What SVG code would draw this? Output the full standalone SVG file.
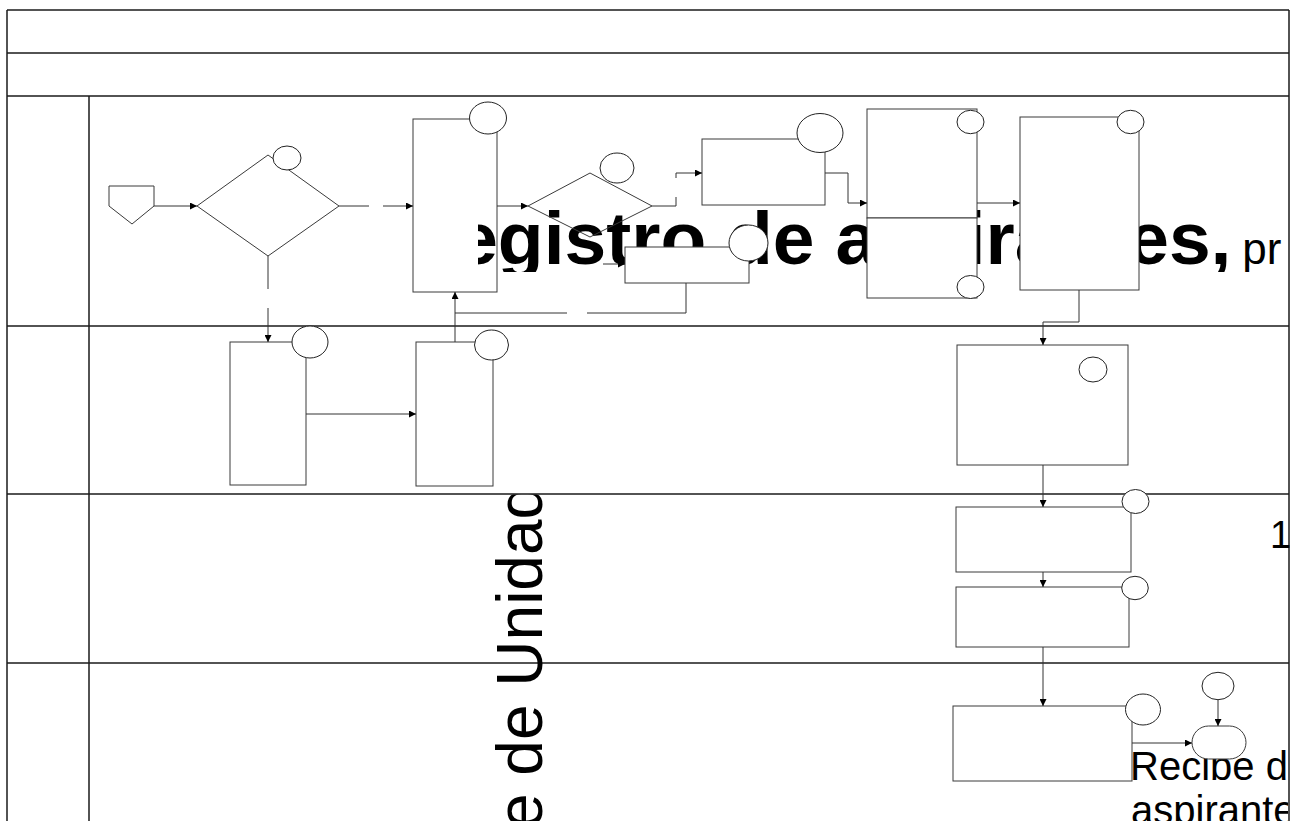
<svg xmlns="http://www.w3.org/2000/svg" width="1292" height="821" viewBox="0 0 1292 821">
<style>
.frame{stroke:#1a1a1a;stroke-width:1.5;fill:none}
.box{fill:#fff;stroke:#3a3a3a;stroke-width:1}
.open{fill:none;stroke:#3a3a3a;stroke-width:1}
.num{fill:#fff;stroke:#222;stroke-width:1}
.conn{fill:none;stroke:#333;stroke-width:1}
.arr{marker-end:url(#ah)}
.t{font-family:"Liberation Sans",Arial,sans-serif;fill:#000}
</style>
<defs>
<marker id="ah" viewBox="0 0 10 10" refX="10" refY="5" markerWidth="9" markerHeight="7" markerUnits="userSpaceOnUse" orient="auto"><path d="M0,0 L10,5 L0,10 z" fill="#000"/></marker>
<clipPath id="clipTitle"><rect x="478" y="96" width="811" height="176"/></clipPath>
<clipPath id="clipV"><rect x="400" y="494.5" width="200" height="327"/></clipPath>
<clipPath id="clipR"><rect x="0" y="0" width="1288" height="821"/></clipPath>
</defs>
<rect x="0" y="0" width="1292" height="821" fill="#fff"/>
<g id="frame">
<line class="frame" x1="7" y1="10" x2="1289" y2="10"/>
<line class="frame" x1="7" y1="53" x2="1289" y2="53"/>
<line class="frame" x1="7" y1="96" x2="1289" y2="96"/>
<line class="frame" x1="7" y1="326" x2="1289" y2="326"/>
<line class="frame" x1="7" y1="494" x2="1289" y2="494"/>
<line class="frame" x1="7" y1="663" x2="1289" y2="663"/>
<line class="frame" x1="7" y1="10" x2="7" y2="821"/>
<line class="frame" x1="1289" y1="10" x2="1289" y2="821"/>
<line class="frame" x1="89" y1="96" x2="89" y2="821"/>
</g>
<g id="nodeA"><rect class="box" x="413" y="119" width="84" height="173"/></g>
<g id="title" clip-path="url(#clipTitle)">
<text class="t" x="402" y="264" font-size="75" font-weight="bold">Registro de aspirantes, <tspan dx="-10" font-weight="normal" font-size="44">pr</tspan></text>
</g>
<g id="labels">
<g clip-path="url(#clipV)">
<text class="t" transform="translate(542,829) rotate(-90)" font-size="64">e de Unidad</text>
</g>
<text class="t" x="1270" y="548" font-size="38">1</text>
<g clip-path="url(#clipR)">
<text class="t" x="1130" y="780" font-size="40">Recibe d</text>
<text class="t" x="1131" y="824" font-size="40">aspirante</text>
</g>
</g>
<g id="nodeA-num"><ellipse class="num" cx="488" cy="118" rx="18.5" ry="16"/></g>
<g id="offpage"><polygon class="box" points="109,186 154,186 154,206 132,224 109,206"/></g>
<g id="decision1"><polygon class="open" points="197,206 268,155 339,206 268,256"/><ellipse class="num" cx="287" cy="158" rx="14" ry="12"/></g>
<g id="decision2"><polygon class="open" points="528,206 590,173 652,206 590,237"/><ellipse class="num" cx="617" cy="168" rx="17" ry="15"/></g>
<g id="nodeB"><rect class="box" x="702" y="139" width="123" height="66"/><ellipse class="num" cx="820" cy="133" rx="23" ry="19.5"/></g>
<g id="nodeC"><rect class="box" x="625" y="247" width="124" height="36"/><ellipse class="num" cx="748.5" cy="243" rx="19.5" ry="18"/></g>
<g id="nodeD"><rect class="box" x="867" y="109" width="110" height="109"/><rect class="box" x="867" y="218" width="110" height="80"/><ellipse class="num" cx="970.5" cy="122" rx="13.5" ry="11.7"/><ellipse class="num" cx="970.5" cy="287" rx="13.5" ry="11.5"/></g>
<g id="nodeE"><rect class="box" x="1020" y="117" width="119" height="173"/><ellipse class="num" cx="1130.5" cy="122" rx="13.5" ry="11.7"/></g>
<g id="nodeA2"><rect class="box" x="230" y="342" width="76" height="143"/><ellipse class="num" cx="310" cy="342" rx="18" ry="16"/></g>
<g id="nodeB2"><rect class="box" x="416" y="342" width="77" height="144"/><ellipse class="num" cx="491.5" cy="345" rx="17" ry="15"/></g>
<g id="nodeF"><rect class="box" x="957" y="345" width="171" height="120"/><ellipse class="num" cx="1093" cy="369.5" rx="14" ry="12.5"/></g>
<g id="nodeG"><rect class="box" x="956" y="507" width="175" height="65"/><ellipse class="num" cx="1135.5" cy="501.5" rx="13.5" ry="12"/></g>
<g id="nodeH"><rect class="box" x="956" y="587" width="173" height="60"/><ellipse class="num" cx="1135" cy="588" rx="13.3" ry="11.7"/></g>
<g id="nodeI"><rect class="box" x="953" y="706" width="179" height="75"/><ellipse class="num" cx="1143" cy="709.5" rx="17.5" ry="15.5"/></g>
<g id="terminal"><rect class="box" x="1192" y="726" width="54" height="33" rx="16.5" ry="16.5"/></g>
<g id="terminal-num"><ellipse class="num" cx="1218" cy="686" rx="16" ry="13.7"/></g>
<g id="connectors">
<line class="conn arr" x1="154" y1="206" x2="197" y2="206"/>
<line class="conn arr" x1="339" y1="206" x2="413" y2="206" stroke-dasharray="30 14 100"/>
<line class="conn arr" x1="268" y1="256" x2="268" y2="342" stroke-dasharray="33 19 100"/>
<line class="conn arr" x1="306" y1="414" x2="416" y2="414"/>
<line class="conn arr" x1="455" y1="342" x2="455" y2="292"/>
<path class="conn" d="M686,283 V313 H455" stroke-dasharray="129 20 300"/>
<line class="conn arr" x1="497" y1="206" x2="528" y2="206"/>
<path class="conn arr" d="M652,206 H676 V173 H702" stroke-dasharray="33 19 100"/>
<line class="conn arr" x1="603" y1="264" x2="625" y2="264"/>
<path class="conn arr" d="M825,173 H848 V203 H867"/>
<line class="conn arr" x1="977" y1="203" x2="1020" y2="203"/>
<path class="conn arr" d="M1079,290 V322 H1043 V345"/>
<line class="conn arr" x1="1043" y1="465" x2="1043" y2="507"/>
<line class="conn arr" x1="1043" y1="572" x2="1043" y2="587"/>
<line class="conn arr" x1="1043" y1="647" x2="1043" y2="706"/>
<line class="conn arr" x1="1132" y1="743" x2="1192" y2="743"/>
<line class="conn arr" x1="1218" y1="700" x2="1218" y2="726"/>
</g>
</svg>
